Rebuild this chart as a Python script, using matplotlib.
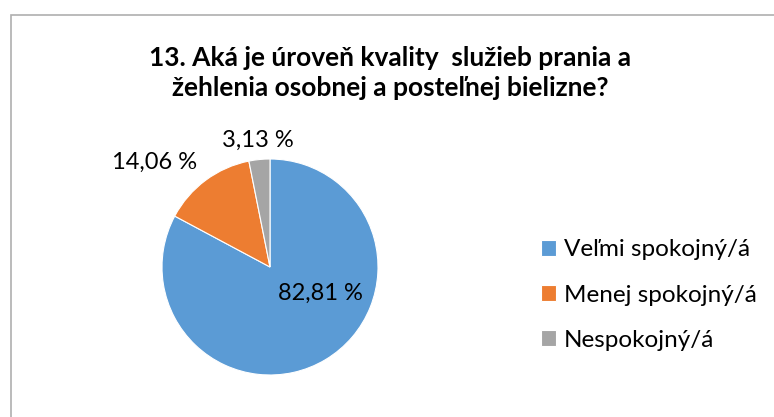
import matplotlib.pyplot as plt
from matplotlib.patches import Rectangle

plt.rcParams['font.family'] = ['Lato', 'DejaVu Sans']

title = "13. Aká je úroveň kvality  služieb prania a\nžehlenia osobnej a posteľnej bielizne?"
categories = ["Veľmi spokojný/á", "Menej spokojný/á", "Nespokojný/á"]
values = [82.81, 14.06, 3.13]
labels = ["82,81 %", "14,06 %", "3,13 %"]
colors = ["#5B9BD5", "#ED7D31", "#A5A5A5"]

W, H = 774, 417
fig = plt.figure(figsize=(W / 100, H / 100), dpi=100)

# chart area border
fig.patches.append(Rectangle((11 / W, -0.1), 1.0, (H - 15) / H + 0.1,
                             transform=fig.transFigure, fill=False,
                             edgecolor="#AFAFAF", linewidth=1.2))

fig.text(390 / W, 1 - 73 / H, title, ha="center", va="center",
         fontsize=19, fontweight="bold", linespacing=1.32, color="#000000")

# pie axes: center (270, 267), radius 108 px
r = 108
ax = fig.add_axes([(270 - r) / W, (H - 267 - r) / H, 2 * r / W, 2 * r / H])
wedges, _ = ax.pie(values, colors=colors, startangle=90, counterclock=False,
                   radius=1.0, wedgeprops=dict(linewidth=0.8, edgecolor="white"))
ax.set_xlim(-1, 1)
ax.set_ylim(-1, 1)
ax.set_aspect("equal")
ax.axis("off")

# data label positions (in radius units relative to center)
label_pos = [(50 / r, -26 / r), (-115 / r, 105 / r), (-12 / r, 127 / r)]
for lab, (x, y) in zip(labels, label_pos):
    ax.text(x, y, lab, ha="center", va="center", fontsize=17, color="#000000",
            clip_on=False)

fig.legend(wedges, categories, loc="center left",
           bbox_to_anchor=(529 / W, 1 - 295 / H), frameon=False,
           fontsize=17.5, handlelength=0.62, handleheight=0.62,
           handletextpad=0.3, labelspacing=1.0, borderpad=0)

fig.savefig("out.png", dpi=100)
